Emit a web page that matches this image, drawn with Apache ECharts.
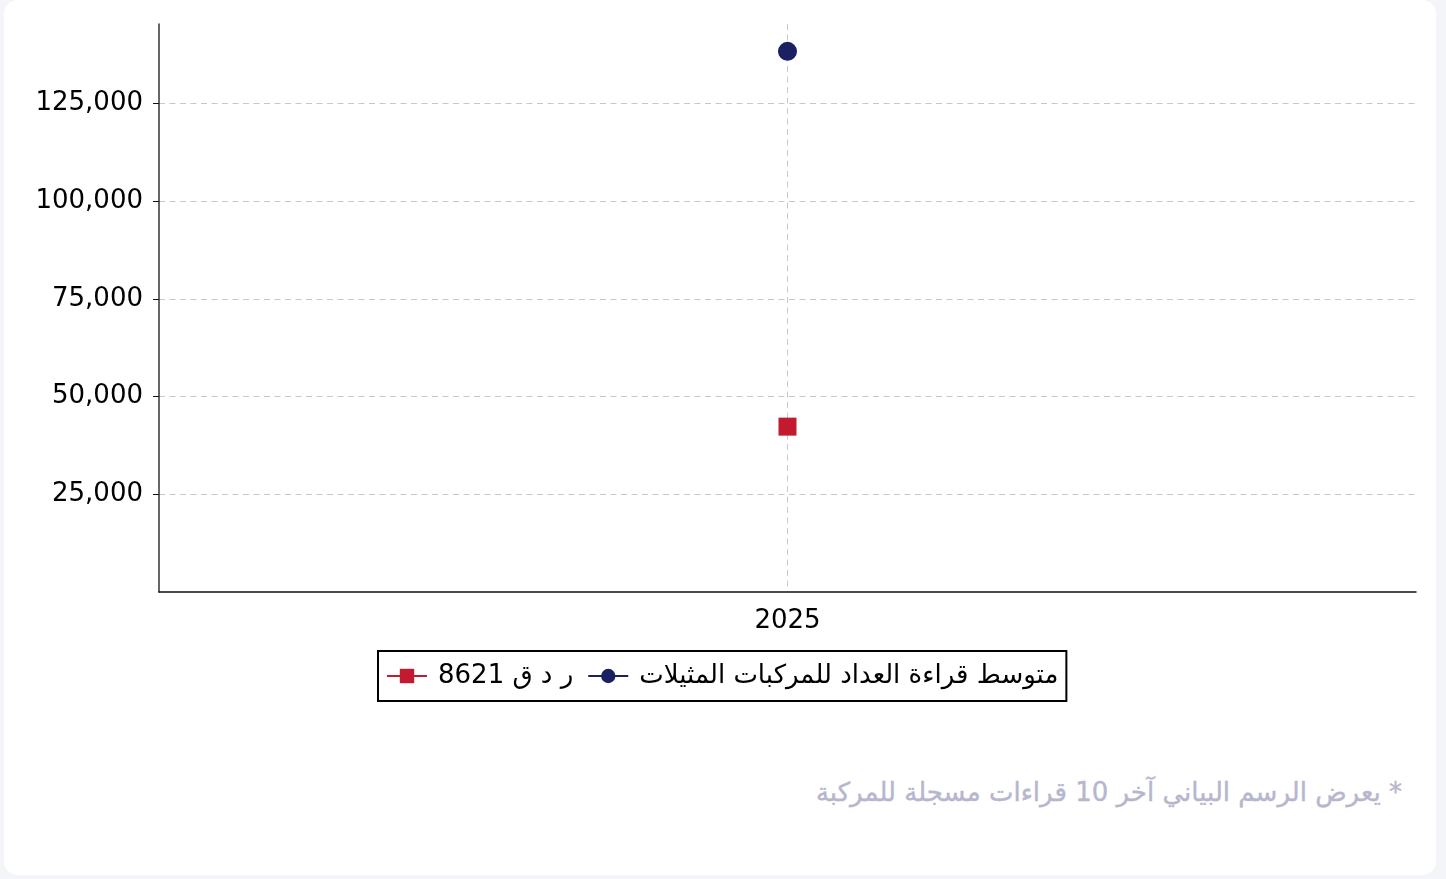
<!DOCTYPE html>
<html>
<head>
<meta charset="utf-8">
<script src="https://cdn.jsdelivr.net/npm/echarts@6/dist/echarts.min.js"></script>
<style>
  html, body { margin: 0; padding: 0; background: #f4f5f8; }
  .card { position: absolute; left: 4px; top: 0; width: 1432px; height: 875px; background: #fff; border-radius: 14px; }
  #chart { position: absolute; left: 0; top: 0; width: 1446px; height: 720px; }
  .note { position: absolute; right: 44px; top: 777px; direction: rtl; font-family: "DejaVu Sans", sans-serif; font-size: 26px; color: #b6b6cd; -webkit-text-stroke: 0.4px #b6b6cd; }
</style>
</head>
<body>
<div class="card"></div>
<div id="chart"></div>
<div class="note">* يعرض الرسم البياني آخر 10 قراءات مسجلة للمركبة</div>
<script>
// data
var years = ['2025'];
var vehicleName = 'ر د ق 8621';
var avgName = 'متوسط قراءة العداد للمركبات المثيلات';
var vehicleValues = [42300];
var avgValues = [138300];
var yTicks = [25000, 50000, 75000, 100000, 125000];

var myChart = echarts.init(document.getElementById('chart'));
window.addEventListener('resize', function () { myChart.resize(); }, false);

var font = '"DejaVu Sans", sans-serif';
var fs = 26;

var option = {
    animation: false,
    grid: { left: 159, top: 24, width: 1257, height: 568 },
    legend: {
        left: 378,
        top: 651,
        padding: [12, 8, 12, 8],
        borderColor: '#000',
        borderWidth: 2,
        itemGap: 14,
        itemWidth: 40,
        itemHeight: 18,
        textStyle: { fontFamily: font, fontSize: fs, color: '#000', padding: [3, 0, 0, 6] },
        data: [vehicleName, avgName]
    },
    xAxis: {
        type: 'category',
        data: years,
        axisLine: { lineStyle: { color: '#111', width: 1.5 } },
        axisTick: { alignWithLabel: true, length: 6, lineStyle: { color: '#111' } },
        axisLabel: { fontFamily: font, fontSize: fs, color: '#000', margin: 16 },
        splitLine: { show: true, alignWithLabel: true, lineStyle: { color: '#c8c8c8', type: [6, 4.5] } }
    },
    yAxis: {
        type: 'value',
        min: 0,
        max: 145300,
        interval: 25000,
        axisLine: { show: true, lineStyle: { color: '#333', width: 1.5 } },
        axisTick: { show: true, length: 6, customValues: yTicks, lineStyle: { color: '#111' } },
        axisLabel: {
            fontFamily: font, fontSize: fs, color: '#000', margin: 16,
            padding: [4, 0, 0, 0],
            customValues: yTicks,
            formatter: function (v) { return v.toLocaleString('en-US'); }
        },
        splitLine: { show: true, lineStyle: { color: '#c8c8c8', type: [6, 4.5] } }
    },
    series: [
        {
            name: vehicleName,
            type: 'line',
            data: vehicleValues,
            symbol: 'rect',
            symbolSize: 18,
            itemStyle: { color: '#c21b30' },
            lineStyle: { color: '#c21b30', width: 2 }
        },
        {
            name: avgName,
            type: 'line',
            data: avgValues,
            symbol: 'circle',
            symbolSize: 19,
            itemStyle: { color: '#1b2063' },
            lineStyle: { color: '#1b2063', width: 2 }
        }
    ]
};
myChart.setOption(option);
</script>
</body>
</html>
